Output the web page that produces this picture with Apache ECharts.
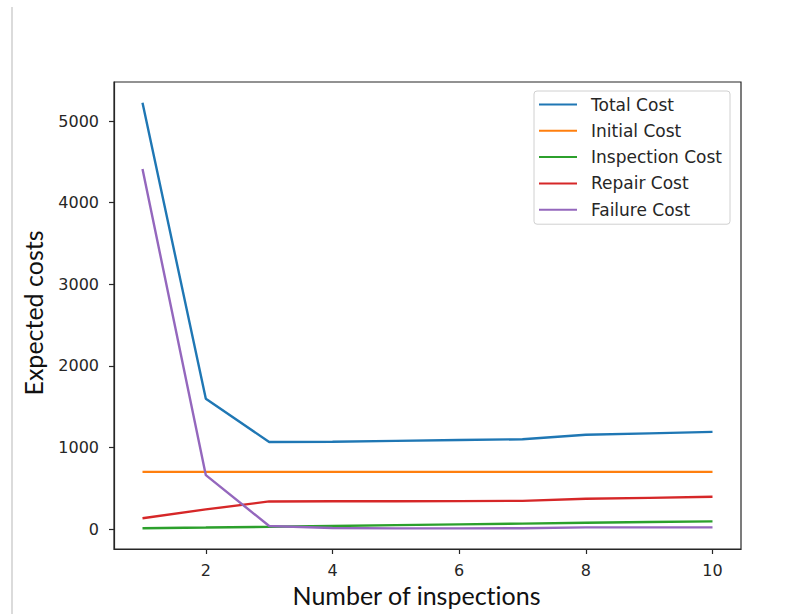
<!DOCTYPE html>
<html>
<head>
<meta charset="utf-8">
<script src="https://cdn.jsdelivr.net/npm/echarts@6/dist/echarts.min.js"></script>
<style>html,body{margin:0;padding:0;background:#fff}#c{width:808px;height:614px}#c text{font-variant-ligatures:none;}</style>
</head>
<body>
<div id="c"></div>
<script>
const inspections = [1, 2, 3, 4, 5, 6, 7, 8, 9, 10];
const totalCost = [5225, 1595, 1067, 1070, 1080, 1090, 1100, 1155, 1172, 1190];
const initialCost = [700, 700, 700, 700, 700, 700, 700, 700, 700, 700];
const inspectionCost = [10, 18, 27, 37, 47, 57, 66, 76, 85, 94];
const repairCost = [132, 240, 338, 340, 341, 342, 345, 370, 382, 395];
const failureCost = [4412, 660, 37, 12, 8, 8, 10, 20, 20, 20];
const xTicks = [2, 4, 6, 8, 10];
const yTicks = [0, 1000, 2000, 3000, 4000, 5000];

const seriesDefs = [
  ['Total Cost', totalCost, '#1f77b4'],
  ['Initial Cost', initialCost, '#ff7f0e'],
  ['Inspection Cost', inspectionCost, '#2ca02c'],
  ['Repair Cost', repairCost, '#d62728'],
  ['Failure Cost', failureCost, '#9467bd']
];

const chart = echarts.init(document.getElementById('c'), null, {renderer: 'svg'});
const axisColor = '#262626';
chart.setOption({
  animation: false,
  backgroundColor: '#ffffff',
  grid: {left: 114, right: 67, top: 82, bottom: 65, show: true, borderColor: axisColor, borderWidth: 1.2, backgroundColor: 'transparent'},
  xAxis: {
    type: 'value', min: 0.55, max: 10.45,
    name: 'Number of inspections', nameLocation: 'middle', nameGap: 28,
    nameTextStyle: {fontFamily: 'Lato', fontSize: 25, color: '#111', padding: [0, 22, 0, 0]},
    axisLine: {show: true, onZero: false, lineStyle: {color: axisColor, width: 1.2}},
    axisTick: {show: true, length: 5, lineStyle: {color: axisColor, width: 1.2}, customValues: xTicks},
    axisLabel: {fontFamily: 'DejaVu Sans', fontSize: 16, color: '#262626', margin: 13, customValues: xTicks, formatter: v => String(v)},
    splitLine: {show: false}
  },
  yAxis: {
    type: 'value', min: -245, max: 5478,
    name: 'Expected costs', nameLocation: 'middle', nameGap: 69, nameRotate: 90,
    nameTextStyle: {fontFamily: 'Lato', fontSize: 25, color: '#111', padding: [0, 0, 0, 5]},
    axisLine: {show: true, onZero: false, lineStyle: {color: axisColor, width: 1.2}},
    axisTick: {show: true, length: 5, lineStyle: {color: axisColor, width: 1.2}, customValues: yTicks},
    axisLabel: {fontFamily: 'DejaVu Sans', fontSize: 16, color: '#262626', margin: 15, customValues: yTicks, formatter: v => String(v)},
    splitLine: {show: false}
  },
  legend: {
    orient: 'vertical', left: 534, top: 91,
    backgroundColor: '#fff', borderColor: '#d0d0d0', borderWidth: 1, borderRadius: 3,
    padding: [5, 8, 6, 5], itemGap: 9.3, itemWidth: 38, itemHeight: 2, icon: 'rect',
    textStyle: {fontFamily: 'DejaVu Sans', fontSize: 17, color: '#262626', lineHeight: 16, padding: [0, 0, 0, 9]},
    data: seriesDefs.map(d => d[0])
  },
  graphic: [{
    type: 'line', shape: {x1: 12, y1: 7, x2: 12, y2: 614},
    style: {stroke: '#cfcfcf', lineWidth: 1.5}, silent: true
  }],
  series: seriesDefs.map(d => ({
    name: d[0], type: 'line', symbol: 'none', showSymbol: false,
    data: inspections.map((x, i) => [x, d[1][i]]),
    itemStyle: {color: d[2]},
    lineStyle: {color: d[2], width: 2.4}
  }))
});
</script>
</body>
</html>
